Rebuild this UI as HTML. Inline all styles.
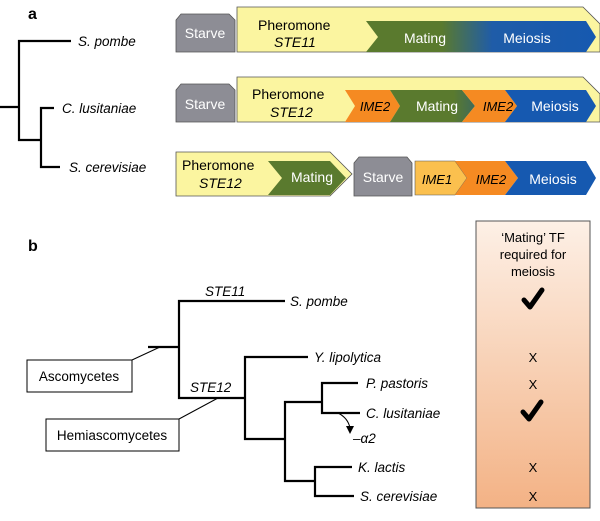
<!DOCTYPE html>
<html><head><meta charset="utf-8"><style>
html,body{margin:0;padding:0;background:#fff}
svg{display:block}
text{font-family:"Liberation Sans",Arial,sans-serif}
</style></head><body>
<svg width="600" height="521" viewBox="0 0 600 521" xmlns="http://www.w3.org/2000/svg">
<defs>
<linearGradient id="gb" x1="0" x2="1" y1="0" y2="0">
<stop offset="0" stop-color="#5a7a2e"/><stop offset="0.33" stop-color="#5a7a2e"/><stop offset="0.55" stop-color="#1f5ca8"/><stop offset="1" stop-color="#1659b0"/>
</linearGradient>
<linearGradient id="gm" x1="0" x2="1"><stop offset="0" stop-color="#5a7a2e"/><stop offset="0.75" stop-color="#5a7a2e"/><stop offset="1" stop-color="#3f6a5a"/></linearGradient>
<linearGradient id="pk" x1="0" x2="0" y1="0" y2="1"><stop offset="0" stop-color="#fdf0e6"/><stop offset="1" stop-color="#f3b285"/></linearGradient>
</defs>
<g font-size="14" fill="#fff" stroke="none">
<!-- panel a label -->
<text x="28" y="19" font-size="16" font-weight="bold" fill="#000">a</text>
<!-- tree a -->
<g stroke="#000" stroke-width="2.2" fill="none">
<path d="M0 107H19M71 41H19V140H41M54 108H41V167H60"/>
</g>
<g font-style="italic" fill="#000" font-size="13.5">
<text x="78" y="46">S. pombe</text>
<text x="62" y="113">C. lusitaniae</text>
<text x="69" y="172">S. cerevisiae</text>
</g>
<!-- row 1 -->
<path d="M176 52V20L181 14H229L235 20V52Z" fill="#8d8d95" stroke="#555" stroke-width="0.8"/>
<text x="205" y="38" text-anchor="middle">Starve</text>
<path d="M237 7H583L600 24V52H237Z" fill="#fbf5a0" stroke="#555" stroke-width="0.8"/>
<path d="M366 21H586L596 37L586 52H366L378 37Z" fill="url(#gb)"/>
<text x="258" y="30" fill="#000">Pheromone</text>
<text x="274" y="47" fill="#000" font-style="italic">STE11</text>
<text x="425" y="43" text-anchor="middle">Mating</text>
<text x="527" y="43" text-anchor="middle">Meiosis</text>
<!-- row 2 -->
<path d="M176 122V90L181 84H229L235 90V122Z" fill="#8d8d95" stroke="#555" stroke-width="0.8"/>
<text x="205" y="109" text-anchor="middle">Starve</text>
<path d="M237 77H583L600 94V122H237Z" fill="#fbf5a0" stroke="#555" stroke-width="0.8"/>
<path d="M345 90H390L400 106L390 122H345L355 106Z" fill="#f58a22"/>
<path d="M390 90H462L475 106L462 122H390L400 106Z" fill="url(#gm)"/>
<path d="M462 90H505L517 106L505 122H462L475 106Z" fill="#f58a22"/>
<path d="M505 90H586L596 106L586 122H505L517 106Z" fill="#1659b0"/>
<text x="252" y="99" fill="#000">Pheromone</text>
<text x="270" y="117" fill="#000" font-style="italic">STE12</text>
<text x="375" y="111" text-anchor="middle" fill="#000" font-style="italic" font-size="13">IME2</text>
<text x="437" y="111" text-anchor="middle">Mating</text>
<text x="498" y="111" text-anchor="middle" fill="#000" font-style="italic" font-size="13">IME2</text>
<text x="555" y="111" text-anchor="middle">Meiosis</text>
<!-- row 3 -->
<path d="M176 152H330L352 174L330 196H176Z" fill="#fbf5a0" stroke="#555" stroke-width="0.8"/>
<path d="M268 161H330L346 178L330 195H268L282 178Z" fill="#5a7a2e"/>
<text x="182" y="170" fill="#000">Pheromone</text>
<text x="199" y="188" fill="#000" font-style="italic">STE12</text>
<text x="312" y="182" text-anchor="middle">Mating</text>
<path d="M354 196V163L359 157H407L412 163V196Z" fill="#8d8d95" stroke="#555" stroke-width="0.8"/>
<text x="383" y="182" text-anchor="middle">Starve</text>
<path d="M415 161H455L467 178L455 195H415Z" fill="#fbc04e" stroke="#555" stroke-width="0.6"/>
<path d="M455 161H505L518 178L505 195H455L467 178Z" fill="#f58a22"/>
<path d="M505 161H586L596 178L586 195H505L518 178Z" fill="#1659b0"/>
<text x="437" y="184" text-anchor="middle" fill="#000" font-style="italic" font-size="13">IME1</text>
<text x="491" y="184" text-anchor="middle" fill="#000" font-style="italic" font-size="13">IME2</text>
<text x="553" y="184" text-anchor="middle">Meiosis</text>
</g>
<!-- panel b -->
<text x="28" y="251" font-size="16" font-weight="bold">b</text>
<rect x="476" y="221" width="114" height="287" fill="url(#pk)" stroke="#555" stroke-width="1"/>
<g font-size="13" text-anchor="middle">
<text x="533" y="242">‘Mating’ TF</text>
<text x="533" y="259">required for</text>
<text x="533" y="276">meiosis</text>
<text x="533" y="362">X</text>
<text x="533" y="389">X</text>
<text x="533" y="472">X</text>
<text x="533" y="501">X</text>
</g>
<g fill="none" stroke="#000" stroke-width="5" stroke-linecap="round" stroke-linejoin="round">
<path d="M524 300L530 307L542 290"/>
<path d="M523 412L529 419L541 402"/>
</g>
<g stroke="#000" stroke-width="2.2" fill="none">
<path d="M148 347H179M285 301H179V398H245M308 357H245V439H285M322 402H285V481H315M358 383H322V413H360M352 467H315V496H354"/>
</g>
<g stroke="#000" stroke-width="1" fill="none">
<path d="M132 360L160 347M179 419L218 398"/>
<path d="M338 413Q348 418 350 428"/>
</g>
<path d="M346 426L354 426L350 434Z" fill="#000"/>
<rect x="27" y="360" width="105" height="32" fill="#fff" stroke="#000" stroke-width="1"/>
<rect x="46" y="419" width="133" height="32" fill="#fff" stroke="#000" stroke-width="1"/>
<g font-size="13.5">
<text x="79" y="381" text-anchor="middle">Ascomycetes</text>
<text x="112" y="440" text-anchor="middle">Hemiascomycetes</text>
</g>
<g font-size="13.5" font-style="italic">
<text x="205" y="296">STE11</text>
<text x="190" y="392">STE12</text>
<text x="290" y="306">S. pombe</text>
<text x="314" y="362">Y. lipolytica</text>
<text x="366" y="388">P. pastoris</text>
<text x="366" y="418">C. lusitaniae</text>
<text x="353" y="443">–α2</text>
<text x="358" y="472">K. lactis</text>
<text x="360" y="501">S. cerevisiae</text>
</g>
</svg>
</body></html>
